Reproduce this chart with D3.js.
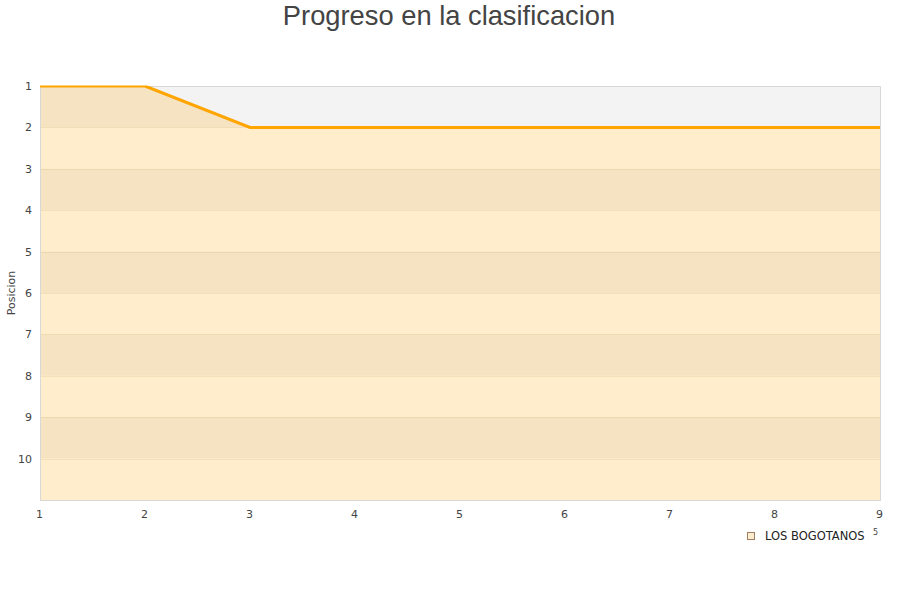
<!DOCTYPE html>
<html><head><meta charset="utf-8">
<script src="https://cdn.jsdelivr.net/npm/d3@7"></script>
<style>body{margin:0;background:#fff}</style>
</head><body>
<svg id="c" width="900" height="600"></svg>
<script>
const jornadas = [1,2,3,4,5,6,7,8,9];
const posiciones = [1,1,2,2,2,2,2,2,2];
const yTicks = [1,2,3,4,5,6,7,8,9,10];
const teamName = "LOS BOGOTANOS";
const titleText = "Progreso en la clasificacion";
const yTitle = "Posicion";

const svg = d3.select("#c");
const L=40,R=880,T=86,B=500;
const x = d3.scaleLinear().domain([1,9]).range([L,R]);
const y = d3.scaleLinear().domain([1,11]).range([T,B]);

svg.append("clipPath").attr("id","clip").append("rect")
  .attr("x",L).attr("y",T-0.5).attr("width",R-L).attr("height",B-T+0.5);

// alternating bands
const bands = d3.range(1,11);
svg.selectAll("rect.band").data(bands).enter().append("rect")
  .attr("x",L).attr("width",R-L)
  .attr("y",d=>y(d)).attr("height",d=>y(d+1)-y(d))
  .attr("fill",d=>d%2===1?"#f3f3f3":"#ffffff");

// area
const area = d3.area().x((d,i)=>x(jornadas[i])).y0(B).y1(d=>y(d));
svg.append("path").datum(posiciones).attr("d",area)
  .attr("fill","rgba(255,165,0,0.2)");

// grid
svg.selectAll("line.grid").data(yTicks.slice(1)).enter().append("line")
  .attr("x1",L).attr("x2",R).attr("y1",d=>Math.round(y(d))+0.5).attr("y2",d=>Math.round(y(d))+0.5)
  .attr("stroke","rgba(200,160,100,0.18)").attr("stroke-width",1);

// border
svg.append("rect").attr("x",L+0.5).attr("y",T+0.5).attr("width",R-L).attr("height",B-T)
  .attr("fill","none").attr("stroke","#d8d8d8");

// line
const line = d3.line().x((d,i)=>x(jornadas[i])).y(d=>y(d));
svg.append("path").datum(posiciones).attr("d",line).attr("clip-path","url(#clip)")
  .attr("fill","none").attr("stroke","#ffa500").attr("stroke-width",3);

// axes
const yAxis = d3.axisLeft(y).tickValues(yTicks).tickSize(0).tickPadding(8);
const gy = svg.append("g").attr("transform",`translate(${L},0)`).call(yAxis);
gy.select(".domain").remove();
gy.selectAll("text").attr("font-family","DejaVu Sans").attr("font-size",11).attr("fill","#444");

const xAxis = d3.axisBottom(x).tickValues(jornadas).tickSize(0).tickPadding(10);
const gx = svg.append("g").attr("transform",`translate(-1,${B})`).call(xAxis);
gx.select(".domain").remove();
gx.selectAll("text").attr("font-family","DejaVu Sans").attr("font-size",11).attr("fill","#444");

// y title
svg.append("text").attr("transform","translate(15,293) rotate(-90)")
  .attr("text-anchor","middle").attr("font-family","DejaVu Sans").attr("font-size",11)
  .attr("fill","#444").text(yTitle);

// title
svg.append("text").attr("x",449).attr("y",25).attr("text-anchor","middle")
  .attr("font-family","Liberation Sans").attr("font-size",27.3).attr("fill","#444").text(titleText);

// legend
svg.append("rect").attr("x",747.5).attr("y",532.5).attr("width",7).attr("height",7)
  .attr("fill","#feecce").attr("stroke","#a08060").attr("stroke-width",1);
svg.append("text").attr("x",765).attr("y",540).attr("font-family","DejaVu Sans").attr("font-size",11.5)
  .attr("fill","#222").text(teamName);
svg.append("text").attr("x",873).attr("y",535).attr("font-family","DejaVu Sans").attr("font-size",8)
  .attr("fill","#444").text("5");
</script>
</body></html>
